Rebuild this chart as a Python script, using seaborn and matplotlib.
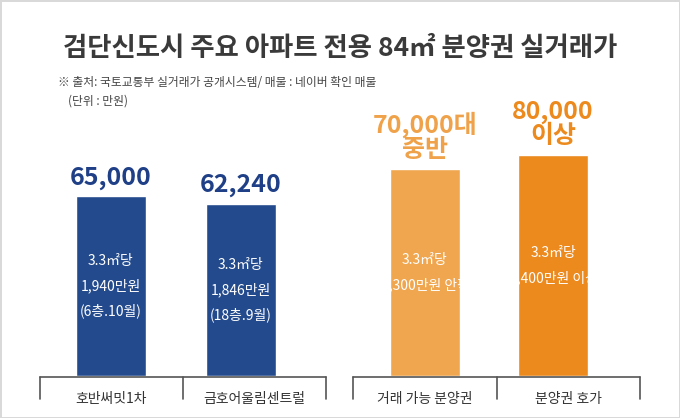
import seaborn as sns
import matplotlib.pyplot as plt
import pandas as pd

sns.set_style("white")
plt.rcParams['font.family'] = ['Noto Sans CJK KR', 'DejaVu Sans']

# ---------- DATA ---------- #
names = ["호반써밋1차", "금호어울림센트럴", "거래 가능 분양권", "분양권 호가"]
xpos = [0, 1, 2.415, 3.4]
values = [65000, 62240, 75000, 80000]
top_labels = ["65,000", "62,240", "70,000대\n중반", "80,000\n이상"]
inner_labels = ["3.3㎡당\n1,940만원\n(6층.10월)", "3.3㎡당\n1,846만원\n(18층.9월)",
                "3.3㎡당\n2,300만원 안팎", "3.3㎡당\n2,400만원 이상"]
bar_colors = ["#234a8c", "#234a8c", "#f0a64e", "#ec8a1e"]
top_colors = ["#1f3f86", "#1f3f86", "#f0a24a", "#ec8a1e"]

W, H = 680, 418
fig = plt.figure(figsize=(W / 100, H / 100), dpi=100)
fig.patch.set_edgecolor("#d9d9d9")
fig.patch.set_linewidth(2)

def fx(p):
    return p / W

def fy(p):
    return 1 - p / H

ax = fig.add_axes([fx(40), fy(376), fx(600), 276 / H])
df = pd.DataFrame({"x": xpos, "v": values, "n": names})
sns.barplot(data=df, x="x", y="v", hue="n", palette=bar_colors, native_scale=True,
            width=0.54, legend=False, ax=ax, saturation=1)
k = 221 / 80000
ax.set_ylim(0, 276 / k)
ax.set_xlim(-0.546, 4.069)
ax.axis("off")

for x, v, t, c in zip(xpos, values, top_labels, top_colors):
    ax.text(x, v + 2500, t, ha="center", va="bottom", fontsize=18, fontweight="bold",
            color=c, linespacing=1.0)
for x, v, t in zip(xpos, values, inner_labels):
    ax.text(x, v * 0.5, t, ha="center", va="center", fontsize=10, color="white", linespacing=1.9)

# brackets
for x0, xm, x1 in [(40, 183, 326), (353, 497, 640)]:
    fig.add_artist(plt.Line2D([fx(x0), fx(x1)], [fy(377), fy(377)], color="#555", lw=1.2))
    for xx in (x0, xm, x1):
        fig.add_artist(plt.Line2D([fx(xx), fx(xx)], [fy(377), fy(399)], color="#555", lw=1.2))
for x, n in zip([111, 254, 425, 568], names):
    fig.text(fx(x), fy(399), n, ha="center", va="center", fontsize=10, color="#333")

fig.text(0.5, fy(48), "검단신도시 주요 아파트 전용 84㎡ 분양권 실거래가", ha="center", va="center",
         fontsize=19, fontweight="bold", color="#3a3a3a")
fig.text(fx(58), fy(82), "※ 출처: 국토교통부 실거래가 공개시스템/ 매물 : 네이버 확인 매물",
         ha="left", va="center", fontsize=8.5, color="#444")
fig.text(fx(68), fy(101), "(단위 : 만원)", ha="left", va="center", fontsize=8.5, color="#444")

fig.savefig("out.png", dpi=100, edgecolor=fig.get_edgecolor())
